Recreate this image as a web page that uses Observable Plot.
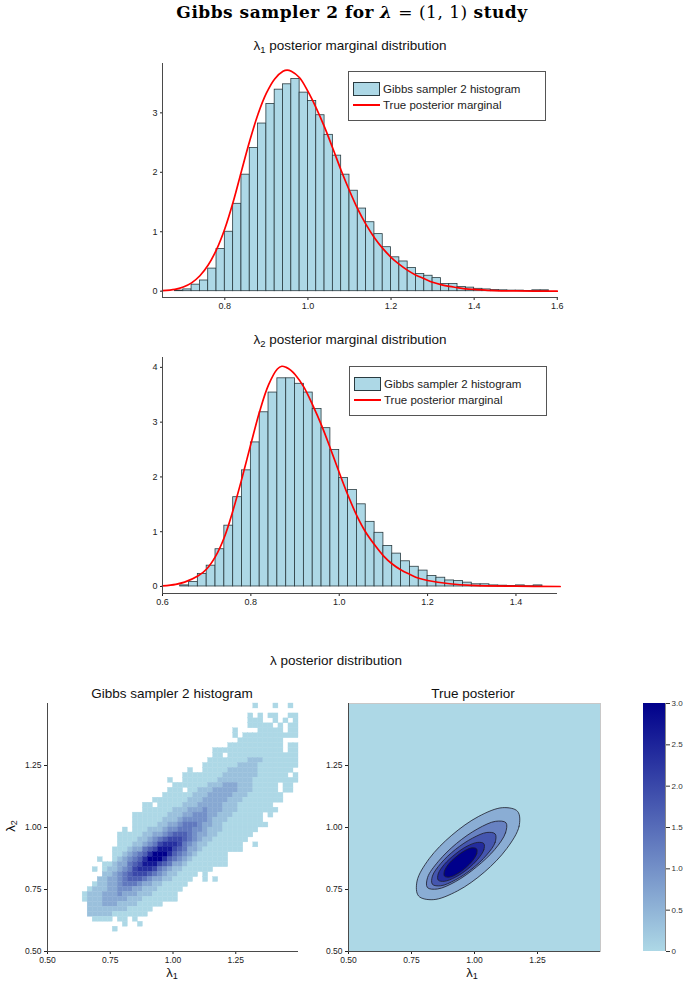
<!DOCTYPE html>
<html><head><meta charset="utf-8">
<script src="https://cdn.jsdelivr.net/npm/d3@7"></script>
<script src="https://cdn.jsdelivr.net/npm/@observablehq/plot@0.6"></script>
<style>
html,body{margin:0;padding:0;background:#fff;}
#root{position:relative;width:685px;height:981px;overflow:hidden;font-family:"Liberation Sans",Arial,sans-serif;color:#111;}
#root svg{max-width:none !important;}
sub{font-size:70%;vertical-align:-0.3em;line-height:0;}
</style></head><body><div id="root"></div>
<script>
// ================= DATA =================
const binWidth = 0.02;

// lambda_1 histogram (bin left edges, density)
const lambda1BinStart = [0.68,0.70,0.72,0.74,0.76,0.78,0.80,0.82,0.84,0.86,0.88,0.90,0.92,0.94,0.96,0.98,1.00,1.02,1.04,1.06,1.08,1.10,1.12,1.14,1.16,1.18,1.20,1.22,1.24,1.26,1.28,1.30,1.32,1.34,1.36,1.38,1.40,1.42,1.44,1.46,1.48,1.50,1.52,1.54,1.56];
const lambda1Density  = [0.01,0.03,0.11,0.18,0.38,0.71,1.00,1.47,1.96,2.41,2.82,3.15,3.39,3.48,3.57,3.34,3.20,2.96,2.63,2.28,1.96,1.69,1.39,1.16,0.96,0.74,0.57,0.50,0.39,0.29,0.26,0.22,0.12,0.12,0.07,0.06,0.04,0.03,0.02,0.015,0.01,0.01,0.005,0.015,0.015];
// lambda_1 true posterior marginal
const lambda1CurveX = [0.65,0.68,0.70,0.72,0.74,0.76,0.78,0.80,0.82,0.84,0.86,0.88,0.90,0.92,0.94,0.95,0.96,0.98,1.00,1.02,1.04,1.06,1.08,1.10,1.12,1.14,1.16,1.18,1.20,1.22,1.24,1.26,1.28,1.30,1.32,1.34,1.36,1.38,1.40,1.45,1.50,1.60];
const lambda1CurveY = [0.01,0.03,0.07,0.14,0.26,0.44,0.70,1.05,1.50,2.02,2.53,2.98,3.33,3.57,3.70,3.72,3.70,3.59,3.36,3.08,2.76,2.40,2.03,1.69,1.38,1.12,0.90,0.72,0.57,0.45,0.35,0.27,0.21,0.15,0.11,0.08,0.06,0.04,0.03,0.01,0.005,0.001];

// lambda_2 histogram
const lambda2BinStart = [0.64,0.66,0.68,0.70,0.72,0.74,0.76,0.78,0.80,0.82,0.84,0.86,0.88,0.90,0.92,0.94,0.96,0.98,1.00,1.02,1.04,1.06,1.08,1.10,1.12,1.14,1.16,1.18,1.20,1.22,1.24,1.26,1.28,1.30,1.32,1.34,1.36,1.38,1.40,1.42,1.44];
const lambda2Density  = [0.02,0.08,0.23,0.38,0.68,1.11,1.63,2.12,2.63,3.18,3.54,3.80,3.80,3.70,3.54,3.24,2.89,2.49,1.98,1.76,1.50,1.18,0.98,0.74,0.60,0.46,0.36,0.29,0.19,0.16,0.11,0.10,0.07,0.04,0.04,0.02,0.015,0.01,0.02,0.005,0.02];
const lambda2CurveX = [0.60,0.63,0.65,0.68,0.70,0.72,0.74,0.76,0.78,0.80,0.82,0.84,0.86,0.87,0.88,0.89,0.90,0.92,0.94,0.96,0.98,1.00,1.02,1.04,1.06,1.08,1.10,1.12,1.14,1.16,1.18,1.20,1.25,1.30,1.40,1.50];
const lambda2CurveY = [0.01,0.04,0.08,0.19,0.32,0.55,0.90,1.40,1.98,2.60,3.20,3.68,3.97,4.02,4.00,3.95,3.87,3.64,3.31,2.94,2.52,2.08,1.66,1.29,0.99,0.76,0.56,0.41,0.30,0.22,0.15,0.11,0.05,0.02,0.005,0.0];

// axis ticks
const hist1XTicks = [0.8,1.0,1.2,1.4,1.6];
const hist1YTicks = [0,1,2,3];
const hist2XTicks = [0.6,0.8,1.0,1.2,1.4];
const hist2YTicks = [0,1,2,3,4];
const panelTicks  = [0.5,0.75,1.0,1.25];
const colorbarTicks = [0,0.5,1.0,1.5,2.0,2.5,3.0];

// 2-D histogram: cells of 0.02, columns from lambda1 = 0.64, rows from lambda2 = 1.50 downwards
// '.' = empty, 0..9 = colour level (0 lightest, 9 darkest)
const heatX0 = 0.64, heatYTop = 1.50, heatCell = 0.02;
const heatRows = [
"..............................." + "...0...0.." + "0..",
"..............................." + ".........." + "...",
"..............................." + "..0.0.00." + ".00",
"..............................." + "..000..0." + "0.0",
"..............................." + "..00000.0" + ".00",
".............................." + "0....00000" + ".00",
".............................." + "0.00000000" + "000",
".............................." + ".000000000" + "...",
"....................." + "........0" + "0000000000" + ".00",
"...................." + "......0000" + "0000000000" + ".00",
"...................." + "......00.0" + "0000000000" + "000",
"...................." + ".....00000" + "0001110000" + "000",
"...................." + "....000000" + "0111100000" + "000",
"...................." + ".0..000001" + "1111100000" + "00.",
"...................." + "0000000011" + "1111100000" + "0.0",
".........." + ".......0.." + "0000000111" + "1111000000" + "000",
".........." + "........00" + "0000011122" + "211100000." + "00.",
".........." + ".......000" + ".001112222" + "211100000." + "00.",
".........." + "......0000" + "0011122222" + "1110000000" + "...",
".........." + "....000000" + "0111222221" + "1100000000" + "...",
".........." + "..00.00000" + "1112222211" + "10000000.." + "...",
".........." + "..00000011" + "1222322211" + "100000000." + "...",
".........." + "0000000111" + "2233322111" + "000000.0.." + "...",
".........." + "0000001112" + "3333321110" + "000000...." + "...",
".........." + "0000011223" + "4443221100" + "0000000..." + "...",
"........0." + "0001112334" + "4433211100" + "00000....." + "...",
".......000" + "0011223455" + "5432211000" + "0000......" + "...",
".......000" + "0112345666" + "5432110000" + "000......." + "...",
".......000" + "1123467776" + "4321100000" + "00..0....." + "...",
"......0001" + "2245688865" + "4221000000" + "00........" + "...",
"......0012" + "3457999754" + "321000000." + ".........." + "...",
"...0..0123" + "4579997543" + "210000000." + ".........." + "...",
"....001224" + "5688865422" + "100000000." + ".........." + "...",
"..0.011234" + "6777643211" + "000000...." + ".........." + "...",
"....112345" + "6665432110" + "000.0....." + ".........." + "...",
"...1122345" + "5543221100" + "00..0.0..." + ".........." + "...",
"..01122344" + "4322110000" + "0........." + ".........." + "...",
".011122333" + "2211100000" + ".........." + ".........." + "...",
"0111222322" + "211100000." + ".........." + ".........." + "...",
"0111222221" + "110000000." + ".........." + ".........." + "...",
".111222111" + "100000...." + ".........." + ".........." + "...",
".111111110" + "0000......" + ".........." + ".........." + "...",
".111110000" + "000......." + ".........." + ".........." + "...",
"..0000.00." + "0........." + ".........." + ".........." + "...",
"........0." + ".0........" + ".........." + ".........." + "...",
"......0..." + ".........." + ".........." + ".........." + "..."
];

// True posterior: filled contour outlines (outer to inner)
const contourLevels = [0.6, 1.2, 1.8, 2.4, 3.0];
const contourRingX = [
  [1.171,1.177,1.128,1.039,0.932,0.836,0.778,0.772,0.820,0.910,1.017,1.112],
  [1.125,1.123,1.081,1.008,0.925,0.853,0.813,0.814,0.857,0.929,1.013,1.084],
  [1.082,1.082,1.048,0.990,0.923,0.866,0.833,0.833,0.867,0.925,0.992,1.049],
  [1.037,1.037,1.013,0.971,0.923,0.880,0.856,0.856,0.880,0.923,0.971,1.013],
  [1.008,1.009,0.993,0.964,0.930,0.900,0.881,0.880,0.896,0.926,0.960,0.990]
];
const contourRingY = [
  [1.065,1.005,0.915,0.820,0.744,0.709,0.724,0.784,0.874,0.969,1.045,1.080],
  [1.019,0.978,0.912,0.841,0.782,0.752,0.758,0.799,0.864,0.936,0.995,1.025],
  [0.974,0.940,0.889,0.833,0.788,0.765,0.771,0.804,0.856,0.912,0.957,0.980],
  [0.935,0.910,0.872,0.831,0.799,0.783,0.788,0.813,0.851,0.892,0.925,0.940],
  [0.914,0.895,0.867,0.837,0.812,0.800,0.804,0.822,0.851,0.881,0.906,0.918]
];

// ================= LAYOUT HELPERS =================
const root = document.getElementById("root");
const LIGHT = "#add8e6", DARK = "#00008b";
const AX = "#4a4a4a";
const FONT = "'Liberation Sans', Arial, sans-serif";

function place(svg, left, top) {
  svg.style.position = "absolute";
  svg.style.left = left + "px";
  svg.style.top = top + "px";
  svg.style.background = "transparent";
  svg.style.maxWidth = "none";
  root.appendChild(svg);
}
function addText(html, cx, cy, css) {
  const d = document.createElement("div");
  d.innerHTML = html;
  Object.assign(d.style, {position: "absolute", left: cx + "px", top: cy + "px",
    transform: "translate(-50%,-50%)", whiteSpace: "nowrap", lineHeight: "1"}, css || {});
  root.appendChild(d);
  return d;
}
function addLegend(left, top) {
  const box = document.createElement("div");
  Object.assign(box.style, {position: "absolute", left: left + "px", top: top + "px", width: "196px", height: "48px",
    border: "1px solid #555", background: "#fff", fontSize: "11.5px", color: "#222"});
  box.innerHTML =
    `<div style="position:absolute;left:4px;top:10px;width:25px;height:12px;background:${LIGHT};border:1px solid #2a3b40"></div>` +
    `<div style="position:absolute;left:34px;top:10px;line-height:14px;white-space:nowrap">Gibbs sampler 2 histogram</div>` +
    `<div style="position:absolute;left:4px;top:32px;width:27px;height:0;border-top:2px solid #ff0000"></div>` +
    `<div style="position:absolute;left:34px;top:26px;line-height:14px;white-space:nowrap">True posterior marginal</div>`;
  root.appendChild(box);
}

// ================= MARGINAL HISTOGRAMS =================
function histPlot(starts, dens, cx, cy, xDomain, yDomain, xTicks, yTicks, height, mt, mb, mr) {
  const bars = starts.map((s, i) => ({x1: s, x2: s + binWidth, y: dens[i]}));
  const curve = cx.map((x, i) => ({x, y: cy[i]}));
  return Plot.plot({
    width: 685, height, marginLeft: 162, marginRight: mr, marginTop: mt, marginBottom: mb,
    style: {background: "transparent", fontFamily: FONT, fontSize: "9px", color: "#222"},
    x: {domain: xDomain, ticks: xTicks, tickFormat: d3.format(".1f"), tickSize: 3, tickPadding: 2, label: null},
    y: {domain: yDomain, ticks: yTicks, tickFormat: d => String(d), tickSize: 2, tickPadding: 3, label: null},
    marks: [
      Plot.rectY(bars, {x1: "x1", x2: "x2", y: "y", fill: LIGHT, stroke: "#2a3b40", strokeWidth: 0.8, insetLeft: 0, insetRight: 0}),
      Plot.line(curve, {x: "x", y: "y", stroke: "#ff0000", strokeWidth: 1.7, curve: "catmull-rom"}),
      Plot.ruleX([xDomain[0]], {stroke: AX, strokeWidth: 1}),
      Plot.ruleY([yDomain[0]], {stroke: AX, strokeWidth: 1})
    ]
  });
}

// main title
addText(`<b>Gibbs sampler 2 for</b> <b><i>λ</i></b> = (1, 1) <b>study</b>`, 352, 12,
  {fontFamily: "'DejaVu Serif', serif", fontSize: "17px", letterSpacing: "0.5px", color: "#000"});

// plot 1
addText(`λ<sub>1</sub> posterior marginal distribution`, 350, 46, {fontSize: "13.5px"});
place(histPlot(lambda1BinStart, lambda1Density, lambda1CurveX, lambda1CurveY,
  [0.65, 1.603], [-0.106, 3.83], hist1XTicks, hist1YTicks, 260, 8, 18, 127), 0, 55);
addLegend(348, 71);

// plot 2
addText(`λ<sub>2</sub> posterior marginal distribution`, 350, 340, {fontSize: "13.5px"});
place(histPlot(lambda2BinStart, lambda2Density, lambda2CurveX, lambda2CurveY,
  [0.6, 1.494], [-0.128, 4.18], hist2XTicks, hist2YTicks, 265, 9, 20, 128), 0, 348);
addLegend(349, 366);

// ================= JOINT POSTERIOR =================
addText(`λ posterior distribution`, 336, 661, {fontSize: "13.5px"});

const panelCommon = {
  height: 285, marginTop: 8, marginBottom: 29,
  style: {background: "transparent", fontFamily: FONT, fontSize: "8.5px", color: "#222"},
  x: {domain: [0.5, 1.5], ticks: panelTicks, tickFormat: d3.format(".2f"), tickSize: 3, tickPadding: 2, label: null},
  y: {domain: [0.5, 1.5], ticks: panelTicks, tickFormat: d3.format(".2f"), tickSize: 3, tickPadding: 3, label: null}
};

// left: 2-D histogram
const cells = [];
heatRows.forEach((row, r) => {
  for (let c = 0; c < row.length; c++) {
    const ch = row[c];
    if (ch === ".") continue;
    cells.push({x1: heatX0 + c * heatCell, x2: heatX0 + (c + 1) * heatCell,
      y1: heatYTop - (r + 1) * heatCell, y2: heatYTop - r * heatCell, v: +ch});
  }
});
addText(`Gibbs sampler 2 histogram`, 172, 694, {fontSize: "13.5px"});
place(Plot.plot({
  ...panelCommon, width: 305, marginLeft: 47, marginRight: 7,
  color: {type: "linear", domain: [0, 9], range: [LIGHT, DARK], interpolate: "rgb"},
  marks: [
    Plot.rect(cells, {x1: "x1", x2: "x2", y1: "y1", y2: "y2", fill: "v", stroke: "v", strokeWidth: 0.35}),
    Plot.ruleX([0.5], {stroke: AX}),
    Plot.ruleY([0.5], {stroke: AX})
  ]
}), 0, 695);
addText(`λ<sub>1</sub>`, 172, 972, {fontSize: "13px"});
addText(`λ<sub>2</sub>`, 10, 826, {fontSize: "13px", transform: "translate(-50%,-50%) rotate(-90deg)"});

// right: true posterior contours
const ringData = [];
contourRingX.forEach((xs, k) => xs.forEach((x, i) => ringData.push({ring: k, x, y: contourRingY[k][i], level: contourLevels[k]})));
addText(`True posterior`, 473, 694, {fontSize: "13.5px"});
place(Plot.plot({
  ...panelCommon, width: 310, marginLeft: 48, marginRight: 10,
  color: {type: "linear", domain: [0, 3], range: [LIGHT, DARK], interpolate: "rgb"},
  marks: [
    Plot.frame({fill: LIGHT, stroke: "#c8c8c8"}),
    Plot.line(ringData, {x: "x", y: "y", z: "ring", fill: "level", stroke: "#1c1c2a", strokeWidth: 0.8, curve: "catmull-rom-closed"}),
    Plot.ruleX([0.5], {stroke: AX}),
    Plot.ruleY([0.5], {stroke: AX})
  ]
}), 300, 695);
addText(`λ<sub>1</sub>`, 472, 972, {fontSize: "13px"});

// colour bar
const bar = document.createElement("div");
Object.assign(bar.style, {position: "absolute", left: "643px", top: "703px", width: "22px", height: "248px",
  background: `linear-gradient(to top, ${LIGHT}, ${DARK})`});
root.appendChild(bar);
place(Plot.plot({
  width: 80, height: 285, marginLeft: 13, marginRight: 45, marginTop: 8, marginBottom: 29,
  style: {background: "transparent", fontFamily: FONT, fontSize: "8px", color: "#333"},
  x: {domain: [0, 1], axis: null},
  y: {domain: [0, 3], ticks: colorbarTicks, axis: "right", tickSize: 4, tickPadding: 2,
      tickFormat: d => d === 0 ? "0" : d3.format(".1f")(d), label: null},
  marks: [Plot.ruleX([1], {y1: 0, y2: 3, stroke: "#888"})]
}), 630, 695);
</script></body></html>
